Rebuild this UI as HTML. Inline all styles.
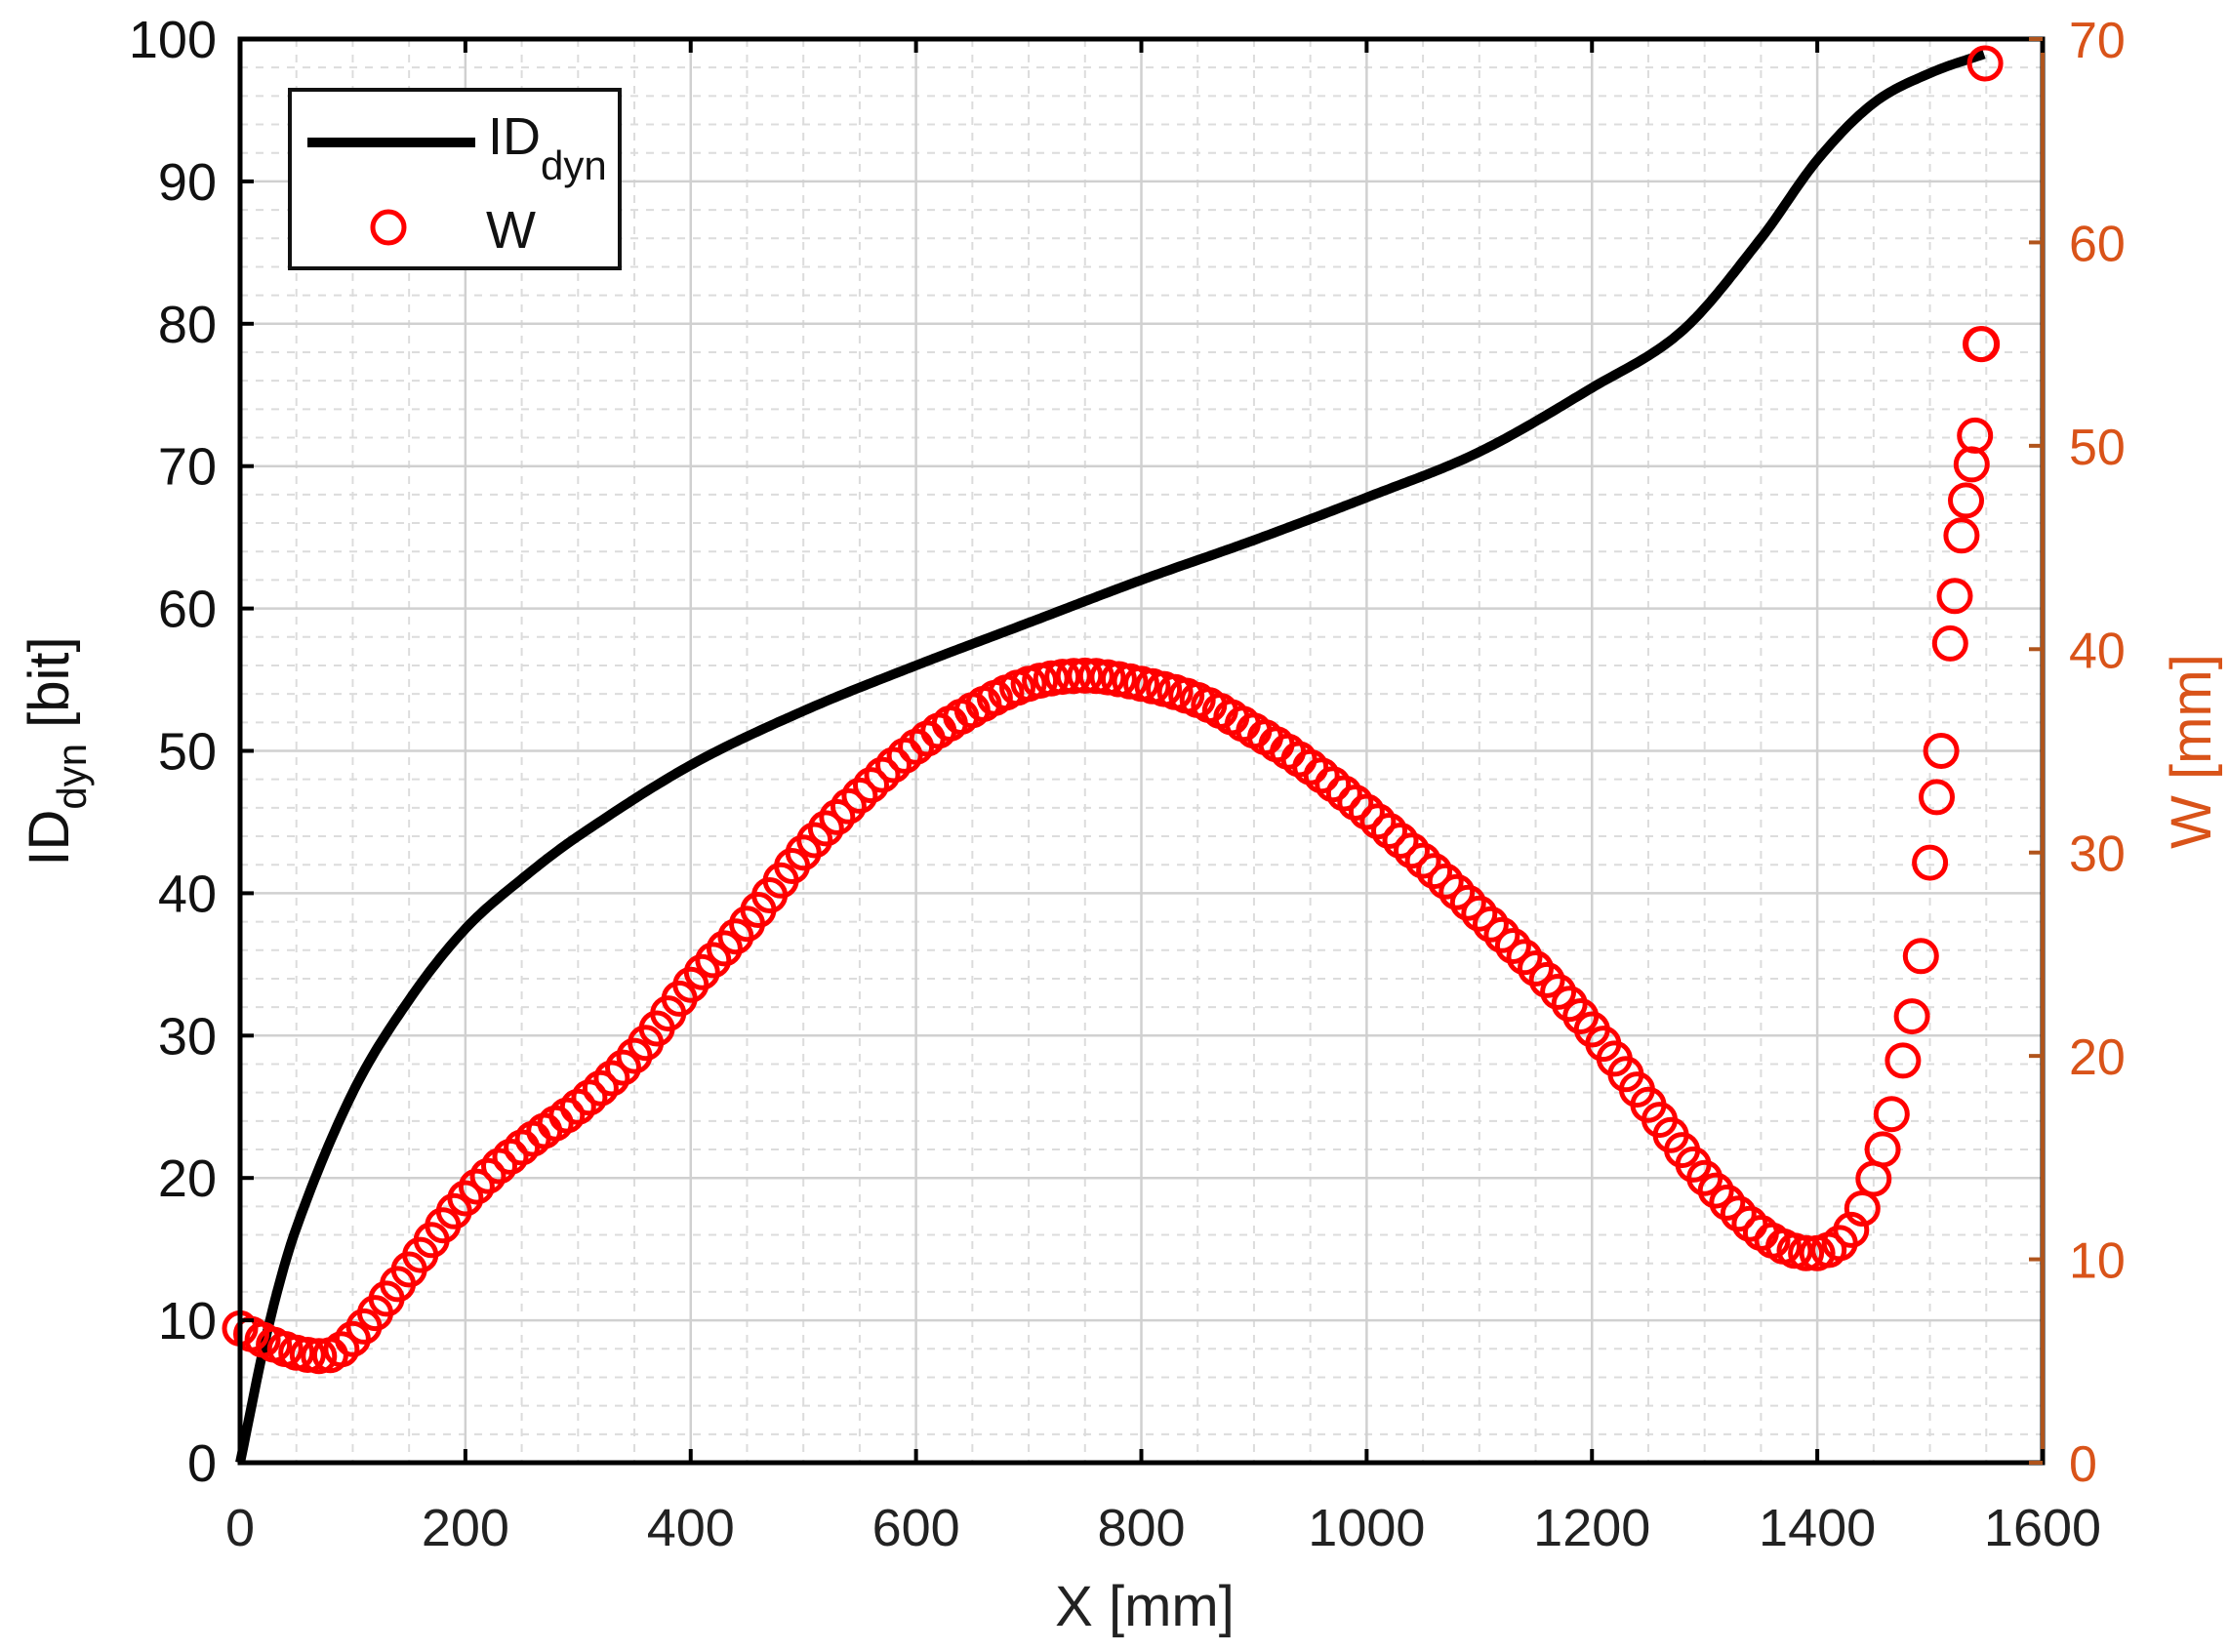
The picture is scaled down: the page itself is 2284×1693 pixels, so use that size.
<!DOCTYPE html>
<html><head><meta charset="utf-8"><style>
html,body{margin:0;padding:0;background:#fff;}
svg{display:block;font-family:"Liberation Sans",Arial,sans-serif;}
</style></head><body>
<svg id="s" width="2284" height="1693" viewBox="0 0 2284 1693" xmlns="http://www.w3.org/2000/svg">
<rect width="2284" height="1693" fill="#fff"/>
<g id="grid"></g>
<g id="data"></g>
<rect x="246" y="40" width="1847" height="1459" fill="none" stroke="#000" stroke-width="5"/>
<line x1="2093" y1="40" x2="2093" y2="1499" stroke="#B0541C" stroke-width="4"/>
<g id="ticks"></g>
<g id="legend">
<rect x="297" y="92" width="338" height="183" fill="#fff" stroke="#111" stroke-width="4"/>
<line x1="315" y1="146" x2="487" y2="146" stroke="#000" stroke-width="10"/>
<circle cx="398" cy="233" r="16" fill="none" stroke="#f00" stroke-width="5"/>
<text x="500" y="158" font-size="54" fill="#111">ID<tspan font-size="42" dy="26">dyn</tspan></text>
<text x="498" y="254" font-size="54" fill="#111">W</text>
</g>
<text x="1173" y="1666" font-size="58" text-anchor="middle" fill="#222">X [mm]</text>
<text transform="translate(70,770) rotate(-90)" font-size="58" text-anchor="middle" fill="#111">ID<tspan font-size="42" dy="18">dyn</tspan><tspan dy="-18"> [bit]</tspan></text>
<text transform="translate(2265,770) rotate(-90)" font-size="58" text-anchor="middle" fill="#D95319">W [mm]</text>
</svg>
<script>
const NS="http://www.w3.org/2000/svg";
function el(p,t,a,txt){const e=document.createElementNS(NS,t);for(const k in a)e.setAttribute(k,a[k]);if(txt!==undefined)e.textContent=txt;p.appendChild(e);return e;}
const X0=246,X1=2093,Y0=1499,Y1=40;
const fx=x=>X0+(X1-X0)*x/1600, fy=y=>Y0-(Y0-Y1)*y/100, fw=w=>Y0-(Y0-Y1)*w/70;
const g=document.getElementById('grid'),tk=document.getElementById('ticks'),d=document.getElementById('data');
for(let x=50;x<1600;x+=50){if(x%200)el(g,'line',{x1:fx(x),y1:Y1,x2:fx(x),y2:Y0,stroke:'#dcdcdc','stroke-width':2,'stroke-dasharray':'8 8'});}
for(let y=2;y<100;y+=2){if(y%10)el(g,'line',{x1:X0,y1:fy(y),x2:X1,y2:fy(y),stroke:'#dcdcdc','stroke-width':2,'stroke-dasharray':'8 8'});}
for(let x=200;x<1600;x+=200)el(g,'line',{x1:fx(x),y1:Y1,x2:fx(x),y2:Y0,stroke:'#d0d0d0','stroke-width':2.5});
for(let y=10;y<100;y+=10)el(g,'line',{x1:X0,y1:fy(y),x2:X1,y2:fy(y),stroke:'#d0d0d0','stroke-width':2.5});
for(let x=0;x<=1600;x+=200){el(tk,'line',{x1:fx(x),y1:Y0,x2:fx(x),y2:Y0-14,stroke:'#000','stroke-width':4});el(tk,'line',{x1:fx(x),y1:Y1,x2:fx(x),y2:Y1+14,stroke:'#000','stroke-width':4});
 el(tk,'text',{x:fx(x),y:1584,'font-size':54,'text-anchor':'middle',fill:'#222'},String(x));}
for(let y=0;y<=100;y+=10){el(tk,'line',{x1:X0,y1:fy(y),x2:X0+14,y2:fy(y),stroke:'#000','stroke-width':4});
 el(tk,'text',{x:222,y:fy(y)+19,'font-size':54,'text-anchor':'end',fill:'#111'},String(y));}
for(let w=0;w<=70;w+=10){el(tk,'line',{x1:X1,y1:fw(w),x2:X1-14,y2:fw(w),stroke:'#B0541C','stroke-width':4});
 el(tk,'text',{x:2120,y:fw(w)+19,'font-size':52,fill:'#D95319'},String(w));}
function interp(k,x){for(let i=0;i<k.length-1;i++){if(x<=k[i+1][0]){const [a,b]=[k[i],k[i+1]];
 const p0=k[Math.max(i-1,0)],p3=k[Math.min(i+2,k.length-1)];const t=(x-a[0])/(b[0]-a[0]);
 const m1=(b[1]-p0[1])/(b[0]-p0[0])*(b[0]-a[0]),m2=(p3[1]-a[1])/(p3[0]-a[0])*(b[0]-a[0]);
 const t2=t*t,t3=t2*t;return (2*t3-3*t2+1)*a[1]+(t3-2*t2+t)*m1+(-2*t3+3*t2)*b[1]+(t3-t2)*m2;}}return k[k.length-1][1];}
const ID=[[0,0],[25,9.5],[50,16.5],[100,26],[150,32.5],[200,37.5],[250,41],[300,44],[400,49],[500,52.8],[600,56],[700,59],[800,62],[900,64.8],[1000,67.8],[1100,71],[1200,75.5],[1280,79.5],[1350,86],[1400,91.5],[1450,95.5],[1500,97.6],[1550,99]];
let pts=[];for(let x=0;x<=1550;x+=3)pts.push(fx(x).toFixed(1)+','+fy(interp(ID,x)).toFixed(1));
el(d,'polyline',{points:pts.join(' '),fill:'none',stroke:'#000','stroke-width':10,'stroke-linejoin':'round'});
const W=[[0,6.6],[30,5.8],[60,5.3],[85,5.4],[110,6.7],[150,9.5],[200,13],[250,15.5],[300,17.5],[350,20],[400,23.5],[450,26.5],[500,30],[550,32.8],[600,35.2],[650,37],[700,38.3],[750,38.7],[800,38.3],[850,37.5],[900,36],[950,34.2],[1000,32],[1050,29.6],[1100,27],[1150,24.3],[1200,21.3],[1250,17.6],[1300,14],[1350,11.3],[1390,10.3],[1420,10.8],[1440,12.5],[1460,15.8],[1475,19.5],[1490,24],[1500,29.5],[1510,35],[1520,41.5],[1530,46.5],[1540,50.5],[1545,55],[1550,69]];
const xs=[];for(let x=0;x<=1400;x+=10)xs.push(x);
[1410,1420,1430,1440,1450,1458,1466,1476,1484,1492,1500,1506,1510,1518,1522,1528,1532,1537,1540,1545].forEach(v=>xs.push(v));
xs.forEach(x=>el(d,'circle',{cx:fx(x).toFixed(1),cy:fw(interp(W,x)).toFixed(1),r:16,fill:'none',stroke:'#f00','stroke-width':5}));
el(d,'circle',{cx:fx(1549),cy:fw(68.8),r:16,fill:'none',stroke:'#f00','stroke-width':5});
el(d,'circle',{cx:fx(1546),cy:fw(55),r:16,fill:'none',stroke:'#f00','stroke-width':5});
</script>
</body></html>
